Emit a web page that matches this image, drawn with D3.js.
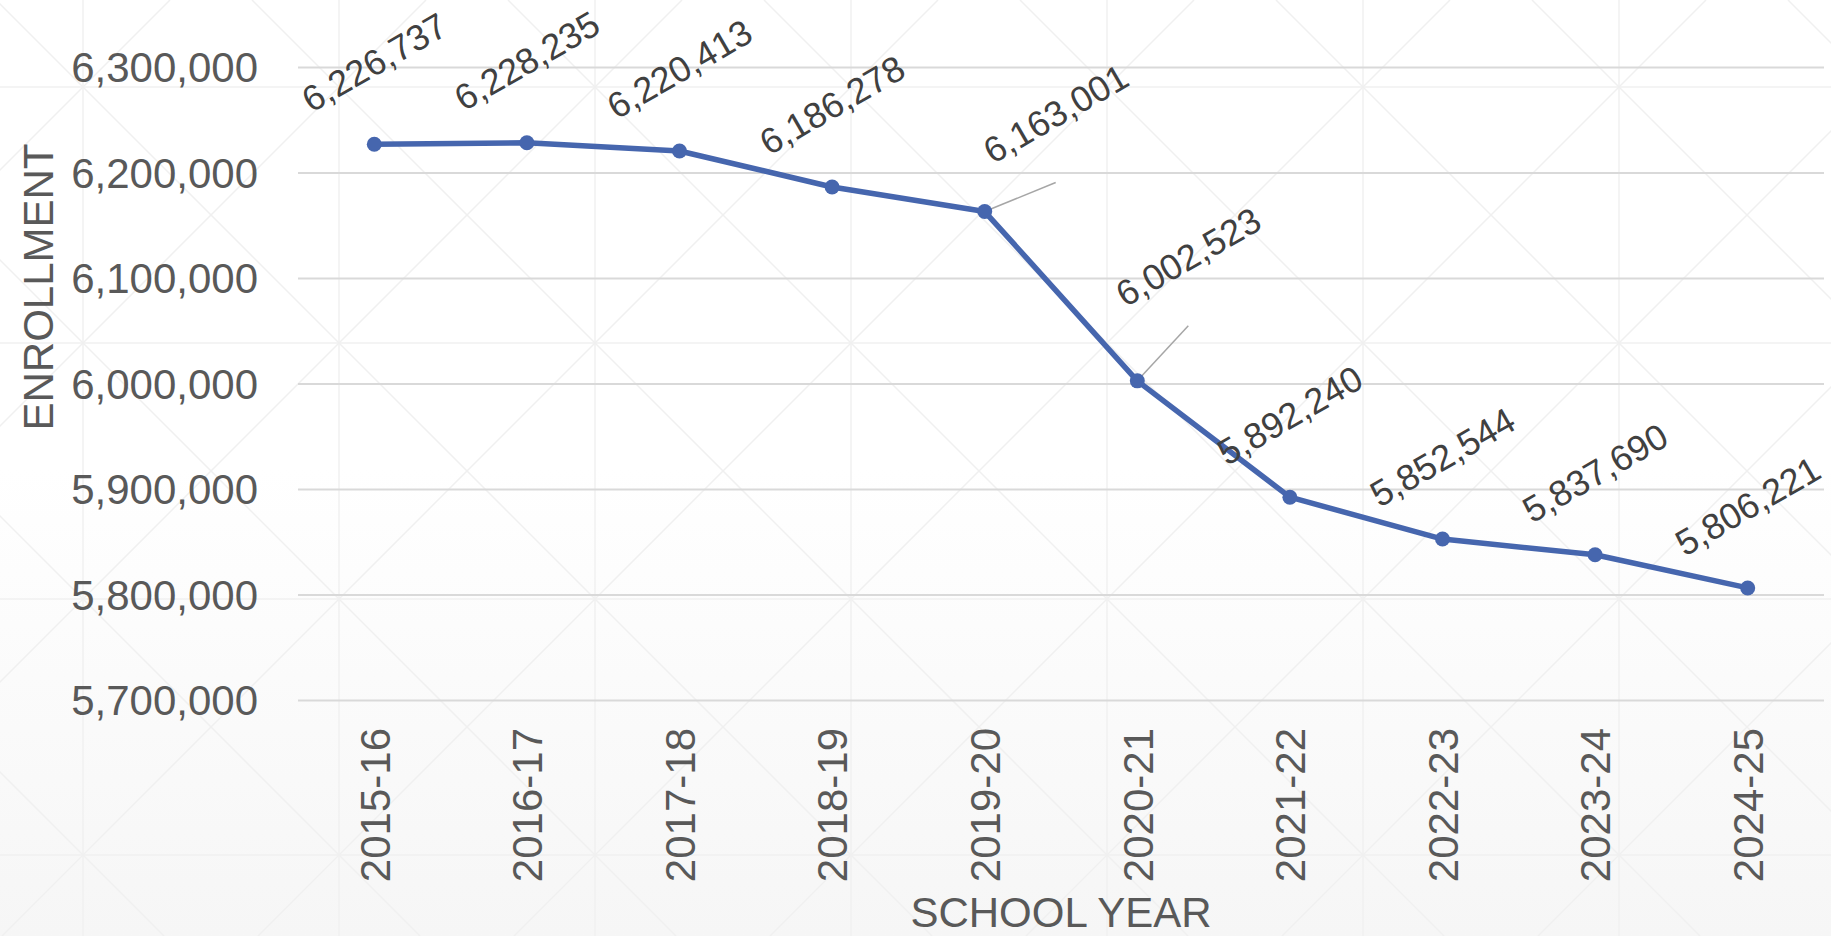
<!DOCTYPE html>
<html>
<head>
<meta charset="utf-8">
<script src="https://cdn.jsdelivr.net/npm/d3@7"></script>
<style>
  body { margin: 0; background: #fff; }
  svg { display: block; font-family: "Liberation Sans", Arial, sans-serif; }
  .tick text { fill: #595959; font-size: 42px; }
  .grid line { stroke: #d9d9d9; stroke-width: 2; }
  .axis-title { fill: #595959; font-size: 42px; }
  .data-label { fill: #404040; font-size: 36px; }
</style>
</head>
<body>
<div id="chart"></div>
<script>
// Enrollment by school year, line chart with rotated data labels

const WIDTH = 1831;
const HEIGHT = 936;

const schoolYears = ["2015-16", "2016-17", "2017-18", "2018-19", "2019-20",
  "2020-21", "2021-22", "2022-23", "2023-24", "2024-25"];
const enrollment = [6226737, 6228235, 6220413, 6186278, 6163001,
  6002523, 5892240, 5852544, 5837690, 5806221];
const yTicks = [5700000, 5800000, 5900000, 6000000, 6100000, 6200000, 6300000];

// labels that were dragged off their point (dx, dy from default spot)
const labelShift = { "2019-20": [71, -16], "2020-21": [51, -42] };

const margin = { top: 67, right: 7, bottom: 236, left: 298 };
const innerW = WIDTH - margin.left - margin.right;
const innerH = HEIGHT - margin.top - margin.bottom;

const svg = d3.select("#chart")
  .append("svg")
  .attr("width", WIDTH)
  .attr("height", HEIGHT);

// ---- background: soft gradient + faint lattice ----
const defs = svg.append("defs");
const grad = defs.append("linearGradient")
  .attr("id", "bg")
  .attr("x1", 0).attr("y1", 0).attr("x2", 0).attr("y2", 1);
grad.append("stop").attr("offset", "0.5").attr("stop-color", "#ffffff");
grad.append("stop").attr("offset", "1").attr("stop-color", "#f6f6f6");

svg.append("rect")
  .attr("width", WIDTH)
  .attr("height", HEIGHT)
  .attr("fill", "url(#bg)");

const step = 256, ox = 83, oy = 87;
const bgLines = svg.append("g")
  .attr("stroke", "#f0f0f0")
  .attr("stroke-width", 1.5);

d3.range(-1, 9).forEach((k) => {
  const x = ox + k * step;
  bgLines.append("line").attr("x1", x).attr("x2", x).attr("y1", 0).attr("y2", HEIGHT);
});
d3.range(-1, 5).forEach((k) => {
  const y = oy + k * step;
  bgLines.append("line").attr("x1", 0).attr("x2", WIDTH).attr("y1", y).attr("y2", y);
});
d3.range(-6, 10).forEach((k) => {
  const c = ox - oy + k * step; // x - y = c
  bgLines.append("line")
    .attr("x1", c).attr("y1", 0)
    .attr("x2", c + HEIGHT).attr("y2", HEIGHT);
  const c2 = ox + oy + k * step; // x + y = c2
  bgLines.append("line")
    .attr("x1", c2).attr("y1", 0)
    .attr("x2", c2 - HEIGHT).attr("y2", HEIGHT);
});

const g = svg.append("g")
  .attr("transform", `translate(${margin.left},${margin.top})`);

// ---- scales ----
const xScale = d3.scalePoint()
  .domain(schoolYears)
  .range([0, innerW])
  .padding(0.5);

const yScale = d3.scaleLinear()
  .domain([5700000, 6300000])
  .range([innerH, 0]);

const fmt = d3.format(",");

// ---- y axis with gridlines ----
g.append("g")
  .attr("class", "grid")
  .call(d3.axisLeft(yScale)
    .tickValues(yTicks)
    .tickSize(-innerW)
    .tickPadding(40)
    .tickFormat(fmt))
  .call((s) => s.select(".domain").remove())
  .call((s) => s.selectAll(".tick text").attr("dy", "0.35em"));

// ---- x axis (labels only) ----
g.append("g")
  .attr("transform", `translate(0,${innerH})`)
  .call(d3.axisBottom(xScale).tickSize(0))
  .call((s) => s.select(".domain").remove())
  .call((s) => s.selectAll(".tick text")
    .attr("transform", "rotate(-90)")
    .attr("text-anchor", "end")
    .attr("x", -28)
    .attr("y", 0)
    .attr("dy", "0.35em"));

// axis titles
svg.append("text")
  .attr("class", "axis-title")
  .attr("transform", "translate(53,287) rotate(-90)")
  .attr("text-anchor", "middle")
  .text("ENROLLMENT");

svg.append("text")
  .attr("class", "axis-title")
  .attr("x", margin.left + innerW / 2)
  .attr("y", 927)
  .attr("text-anchor", "middle")
  .text("SCHOOL YEAR");

// ---- line + markers ----
const data = schoolYears.map((yr, i) => ({ yr, v: enrollment[i] }));

const line = d3.line()
  .x((d) => xScale(d.yr))
  .y((d) => yScale(d.v));

// leader lines for moved labels
const labelPos = (d) => {
  const s = labelShift[d.yr] || [0, 0];
  return [xScale(d.yr) + s[0], yScale(d.v) - 82 + s[1]];
};

g.append("g")
  .selectAll("line")
  .data(data.filter((d) => labelShift[d.yr]))
  .join("line")
  .attr("x1", (d) => xScale(d.yr))
  .attr("y1", (d) => yScale(d.v))
  .attr("x2", (d) => labelPos(d)[0])
  .attr("y2", (d) => labelPos(d)[1] + 69)
  .attr("stroke", "#a6a6a6")
  .attr("stroke-width", 1.5);

g.append("path")
  .datum(data)
  .attr("fill", "none")
  .attr("stroke", "#4666ae")
  .attr("stroke-width", 5.5)
  .attr("stroke-linejoin", "round")
  .attr("d", line);

g.append("g")
  .selectAll("circle")
  .data(data)
  .join("circle")
  .attr("cx", (d) => xScale(d.yr))
  .attr("cy", (d) => yScale(d.v))
  .attr("r", 7.5)
  .attr("fill", "#4666ae");

// ---- data labels ----
g.append("g")
  .selectAll("text")
  .data(data)
  .join("text")
  .attr("class", "data-label")
  .attr("transform", (d) => {
    const [x, y] = labelPos(d);
    return `translate(${x},${y}) rotate(-30)`;
  })
  .attr("text-anchor", "middle")
  .attr("dy", "0.35em")
  .text((d) => fmt(d.v));
</script>
</body>
</html>
